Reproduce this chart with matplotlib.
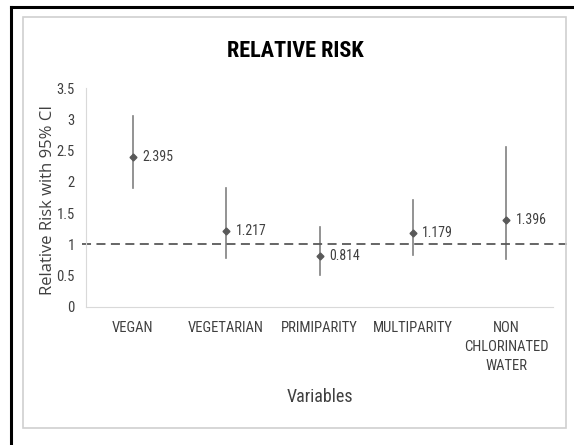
import matplotlib
matplotlib.use("Agg")
from matplotlib import pyplot as plt
from matplotlib.patches import Rectangle
from matplotlib.lines import Line2D

# data
categories = ["VEGAN", "VEGETARIAN", "PRIMIPARITY", "MULTIPARITY", "NON\nCHLORINATED\nWATER"]
rr = [2.395, 1.217, 0.814, 1.179, 1.396]
ci_low = [1.90, 0.78, 0.51, 0.83, 0.77]
ci_high = [3.05, 1.90, 1.28, 1.71, 2.56]
yticks = [0, 0.5, 1, 1.5, 2, 2.5, 3, 3.5]
ytick_labels = ["0", "0.5", "1", "1.5", "2", "2.5", "3", "3.5"]

W, H = 574, 445
fig = plt.figure(figsize=(W / 100, H / 100), dpi=100)

narrow = ["Roboto Condensed", "Liberation Sans Narrow", "Lato"]
txt = "#404040"
mark = "#595959"

# outer black border (top + left only visible)
fig.add_artist(Line2D([11 / W, 1], [1 - 7 / H, 1 - 7 / H], color="black", lw=2.2))
fig.add_artist(Line2D([11 / W, 11 / W], [0, 1 - 7 / H], color="black", lw=2.2))
# chart frame
fig.add_artist(Rectangle((23 / W, 1 - 428 / H), (566 - 23) / W, (428 - 17) / H,
                         fill=False, edgecolor="#d0d0d0", lw=1.2))

left, right, top, bottom = 86, 553, 88, 307
ax = fig.add_axes([left / W, 1 - bottom / H, (right - left) / W, (bottom - top) / H])

x = list(range(len(categories)))
for i in x:
    ax.plot([i, i], [ci_low[i], ci_high[i]], color="#808080", lw=1.2)
ax.plot(x, rr, "D", color=mark, ms=3.5, zorder=3)
for i in x:
    ax.text(i + 0.1, rr[i], "{:.3f}".format(rr[i]), ha="left", va="center",
            fontsize=10, color=txt, family=narrow)

ax.axhline(1, xmin=-0.008, xmax=1.03, color="#595959", lw=1.3, ls=(0, (5, 3)), clip_on=False)

ax.set_xlim(-0.5, len(categories) - 0.5)
ax.set_ylim(0, 3.5)
ax.set_yticks(yticks)
ax.set_yticklabels(ytick_labels, family=narrow, fontsize=10.5, color=txt)
ax.set_xticks(x)
ax.set_xticklabels(categories, family=narrow, fontsize=10.5, color=txt, linespacing=1.45)
ax.tick_params(axis="both", length=0)
ax.tick_params(axis="x", pad=10)
ax.tick_params(axis="y", pad=8)
for s in ["top", "right"]:
    ax.spines[s].set_visible(False)
ax.spines["left"].set_color("#d9d9d9")
ax.spines["bottom"].set_color("#d9d9d9")

fig.text(295 / W, 1 - 51 / H, "RELATIVE RISK", ha="center", va="center",
         fontsize=16, fontweight="bold", color="black", family=narrow)
fig.text(48 / W, 1 - 200 / H, "Relative Risk with 95% CI", ha="center", va="center",
         rotation=90, fontsize=12, color=txt, family="Open Sans")
fig.text(320 / W, 1 - 397 / H, "Variables", ha="center", va="center",
         fontsize=13, color=txt, family=narrow)

fig.savefig("out.png", dpi=100)
